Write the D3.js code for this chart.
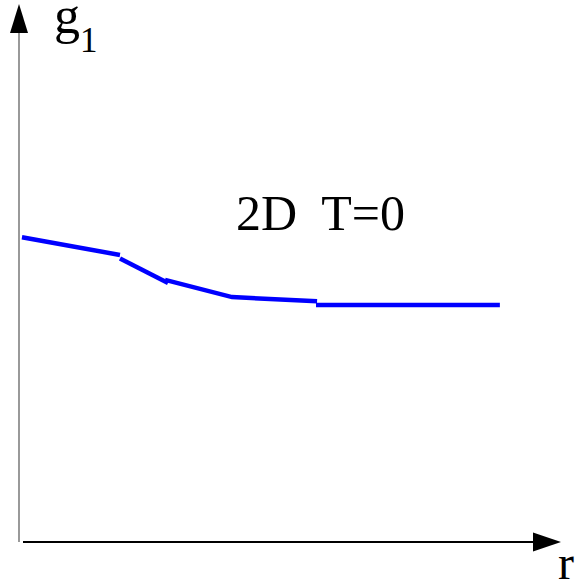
<!DOCTYPE html>
<html>
<head>
<meta charset="utf-8">
<script src="https://cdn.jsdelivr.net/npm/d3@7"></script>
<style>
  html, body { margin: 0; padding: 0; background: #fff; }
  svg { display: block; }
  text { font-family: "Liberation Serif", "Times New Roman", serif; fill: #000; }
</style>
</head>
<body>
<svg id="chart" width="579" height="585"></svg>
<script>
// ---- data ----
const segment1R = [0.11, 3.74];
const segment1G = [0.586, 0.552];
const segment2R = [3.74, 5.52];
const segment2G = [0.545, 0.498];
const segment3R = [5.41, 7.89, 11.04];
const segment3G = [0.504, 0.471, 0.463];
const segment4R = [11.0, 17.81];
const segment4G = [0.456, 0.456];
const segmentsR = [segment1R, segment2R, segment3R, segment4R];
const segmentsG = [segment1G, segment2G, segment3G, segment4G];

const xLabel = "r";
const yLabel = "g";
const yLabelSub = "1";
const annotation = "2D  T=0";

// ---- layout ----
const svg = d3.select("#chart");
const x = d3.scaleLinear().domain([0, 20]).range([19, 559]);
const y = d3.scaleLinear().domain([0, 1]).range([542, 22]);

const x0 = x(0), y0 = y(0);

// y axis (gray) with arrow
svg.append("line")
  .attr("x1", x0).attr("x2", x0)
  .attr("y1", y0).attr("y2", 30)
  .attr("stroke", "#808080").attr("stroke-width", 1.6);
svg.append("path")
  .attr("d", `M${x0},4 L${x0 - 9},33 L${x0 + 9},33 Z`)
  .attr("fill", "#000");

// x axis (black) with arrow
svg.append("line")
  .attr("x1", x0 + 4).attr("x2", 535)
  .attr("y1", y0).attr("y2", y0)
  .attr("stroke", "#000").attr("stroke-width", 1.8);
svg.append("path")
  .attr("d", `M561,${y0} L533,${y0 - 9.5} L533,${y0 + 9.5} Z`)
  .attr("fill", "#000");

// data segments
const line = d3.line().x(d => x(d[0])).y(d => y(d[1]));
segmentsR.forEach((rs, i) => {
  const pts = rs.map((r, j) => [r, segmentsG[i][j]]);
  svg.append("path")
    .attr("d", line(pts))
    .attr("fill", "none")
    .attr("stroke", "#0000ff")
    .attr("stroke-width", 4.5);
});

// labels
const gl = svg.append("text").attr("x", 54).attr("y", 33).style("font-size", "52px");
gl.append("tspan").text(yLabel);
gl.append("tspan").attr("dy", 19).style("font-size", "35px").text(yLabelSub);

svg.append("text").attr("x", 558).attr("y", 579).style("font-size", "48px").text(xLabel);

svg.append("text").attr("x", 236).attr("y", 230).style("font-size", "50px")
  .attr("xml:space", "preserve").style("white-space", "pre").text(annotation);
</script>
</body>
</html>
